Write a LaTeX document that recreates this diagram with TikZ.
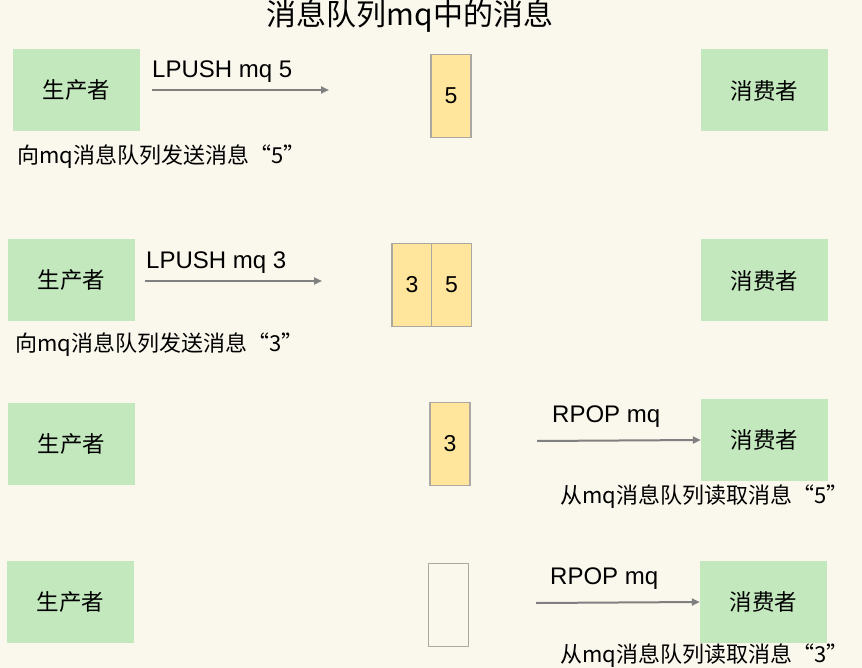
\documentclass[tikz,border=0pt]{standalone}
\usepackage{fontspec}
\setmainfont{Noto Sans CJK SC}
\newfontfamily\latfont{Liberation Sans}
\usepackage{xcolor}
\usetikzlibrary{arrows.meta,positioning}
\definecolor{bgcream}{RGB}{250,247,236}
\definecolor{softgreen}{RGB}{195,232,190}
\definecolor{softyellow}{RGB}{255,230,156}
\definecolor{cellgray}{RGB}{170,168,160}
\definecolor{arrgray}{RGB}{128,128,128}

\begin{document}
\begin{tikzpicture}[x=1pt, y=-1pt,
    role/.style={rectangle, fill=softgreen, minimum width=127pt,
        minimum height=82pt, inner sep=0pt, font=\fontsize{22.5}{26}\selectfont},
    cell/.style={rectangle, draw=cellgray, line width=1.2pt, fill=softyellow,
        minimum width=40pt, minimum height=83pt, inner sep=0pt,
        font=\latfont\fontsize{23}{26}\selectfont},
    cmd/.style={font=\latfont\fontsize{24}{28}\selectfont, inner sep=0pt, anchor=west},
    note/.style={font=\fontsize{22}{26}\selectfont, inner sep=0pt, anchor=west},
    arr/.style={-{Triangle[length=8pt,width=7pt]}, line width=2pt, arrgray}
]
    \fill[bgcream] (0,0) rectangle (862,668);
    \useasboundingbox (0,0) rectangle (862,668);

    \node[font=\fontsize{30}{34}\selectfont] (title) at (410,16) {消息队列mq中的消息};

    % LPUSH mq 5
    \node[role] (p1) at (76.5,90.5) {生产者};
    \node[cell] (q1) at (451,96) {5};
    \node[role] (c1) at (764.5,90.5) {消费者};
    \coordinate (a1s) at (152,90);
    \coordinate (a1e) at (329,90);
    \draw[arr] (a1s) -- (a1e);
    \node[cmd] (l1) at (152,72) {LPUSH mq 5};
    \node[note] (n1) at (17,157) {向mq消息队列发送消息“5”};

    % LPUSH mq 3
    \node[role] (p2) at (71.5,280.5) {生产者};
    \node[cell] (q2a) at (412,285) {3};
    \node[cell] (q2b) at (451.5,285) {5};
    \node[role] (c2) at (764.5,280.5) {消费者};
    \coordinate (a2s) at (145,281);
    \coordinate (a2e) at (322,281);
    \draw[arr] (a2s) -- (a2e);
    \node[cmd] (l2) at (146,263) {LPUSH mq 3};
    \node[note] (n2) at (15,345) {向mq消息队列发送消息“3”};

    % RPOP mq -> 5
    \node[role] (p3) at (71.5,444) {生产者};
    \node[cell] (q3) at (450,444) {3};
    \node[role] (c3) at (764.5,440) {消费者};
    \coordinate (a3s) at (537,441);
    \draw[arr] (a3s) -- (c3.west);
    \node[cmd] (l3) at (552,417) {RPOP mq};
    \node[note] (n3) at (560,497) {从mq消息队列读取消息“5”};

    % RPOP mq -> 3
    \node[role] (p4) at (70.5,602) {生产者};
    \node[cell, fill=bgcream] (q4) at (448.5,605) {};
    \node[role] (c4) at (763.5,602) {消费者};
    \coordinate (a4s) at (536,603);
    \draw[arr] (a4s) -- (c4.west);
    \node[cmd] (l4) at (550,579) {RPOP mq};
    \node[note] (n4) at (560,656) {从mq消息队列读取消息“3”};
\end{tikzpicture}
\end{document}
